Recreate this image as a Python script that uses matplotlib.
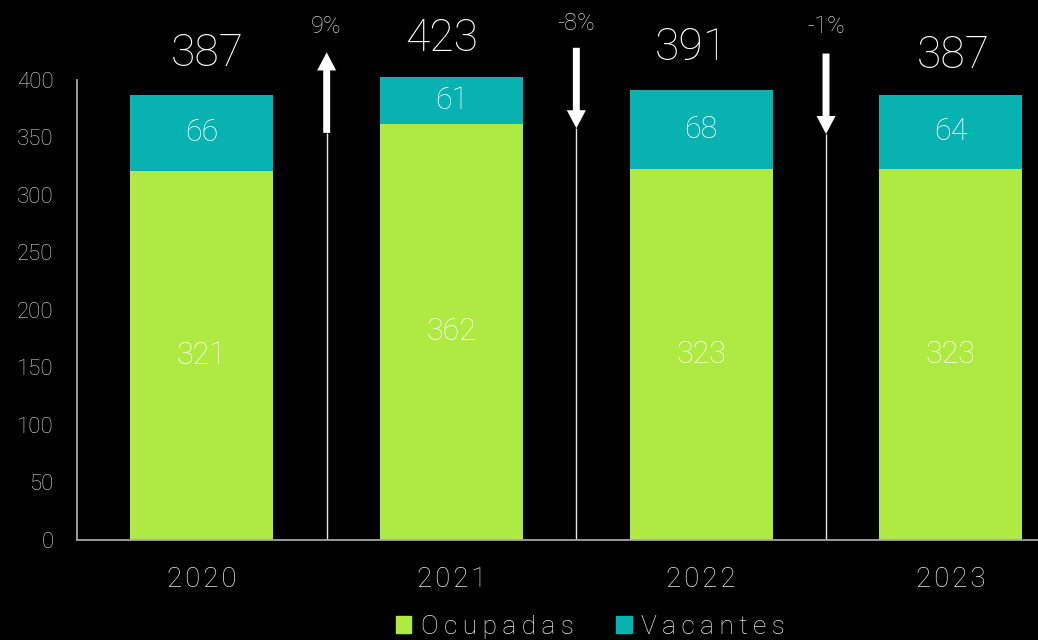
import numpy as np
import matplotlib
matplotlib.use("Agg")
import matplotlib.pyplot as plt
from matplotlib.patches import FancyArrowPatch, ArrowStyle, Rectangle, Circle

# data
years = ["2020", "2021", "2022", "2023"]
ocupadas = [321, 362, 323, 323]
vacantes = [66, 61, 68, 64]
totals = [387, 423, 391, 387]
changes = ["9%", "-8%", "-1%"]
series_names = ["Ocupadas", "Vacantes"]

# where the annotations sit (data units)
total_label_x = [0.02, -0.04, -0.04, 0.01]
total_label_y = [422.5, 435.5, 428.0, 421.5]
change_label_y = [446.5, 449.0, 446.5]
arrow_tail = [354, 428, 423]
arrow_tip = [424, 358, 353]

GREEN = "#aeea42"
TEAL = "#08b2b0"
FONT = ["Roboto", "DejaVu Sans"]

plt.rcParams["font.family"] = FONT
plt.rcParams["font.weight"] = "light"


def spaced(s, gap="\u2009"):
    # mimic the wide letter spacing of the original
    return gap.join(s)


fig = plt.figure(figsize=(10.38, 6.4), dpi=100, facecolor="black")
W, H = 1038, 640
ymax = 402.6
ax = fig.add_axes([77 / W, 100 / H, 998.7 / W, 463 / H], facecolor="black")

x = np.arange(len(years))
bw = 0.573
ax.bar(x, ocupadas, bw, color=GREEN)
ax.bar(x, vacantes, bw, bottom=ocupadas, color=TEAL)

ax.set_xlim(-0.5, 3.5)
ax.set_ylim(0, ymax)
ax.set_yticks(np.arange(0, 401, 50))
ax.set_xticks(x)
ax.set_xticklabels([spaced(y, "\u200a") for y in years])
ax.tick_params(axis="y", length=0, pad=17, labelsize=16, labelcolor="#d9d9d9")
ax.tick_params(axis="x", length=0, pad=19, labelsize=20, labelcolor="#e6e6e6")
for s in ["top", "right"]:
    ax.spines[s].set_visible(False)
for s in ["left", "bottom"]:
    ax.spines[s].set_color("#a6a6a6")
    ax.spines[s].set_linewidth(1.3)
ax.spines["left"].set_bounds(0, 400)

# segment labels
for i in range(len(years)):
    ax.text(x[i], ocupadas[i] / 2, str(ocupadas[i]), ha="center", va="center",
            color="white", fontsize=22)
    top = min(ocupadas[i] + vacantes[i], ymax)
    ax.text(x[i], (ocupadas[i] + top) / 2, str(vacantes[i]), ha="center", va="center",
            color="white", fontsize=22)
    ax.text(x[i] + total_label_x[i], total_label_y[i], str(totals[i]), ha="center",
            va="center", color="white", fontsize=32, clip_on=False)

# change arrows between bars
style = ArrowStyle.Simple(head_length=13, head_width=13.7, tail_width=5)
for j in range(len(changes)):
    xm = j + 0.5
    low = min(arrow_tail[j], arrow_tip[j])
    ax.plot([xm, xm], [0, low], color="#e6e6e6", lw=1, solid_capstyle="butt")
    arr = FancyArrowPatch((xm, arrow_tail[j]), (xm, arrow_tip[j]), arrowstyle=style,
                          mutation_scale=1, shrinkA=0, shrinkB=0, color="white",
                          lw=0, clip_on=False)
    ax.add_patch(arr)
    ax.text(xm, change_label_y[j], changes[j], ha="center", va="center",
            color="#cfcfcf", fontsize=17, clip_on=False)

# legend
handles = [Rectangle((0, 0), 1, 1, color=GREEN), Rectangle((0, 0), 1, 1, color=TEAL)]
fig.legend(handles, [spaced(n) for n in series_names], loc="center",
           bbox_to_anchor=(590 / W, 1 - 627 / H), ncol=2, frameon=False, fontsize=19,
           labelcolor="#e6e6e6", handlelength=0.6, handleheight=0.6,
           handletextpad=0.35, columnspacing=1.6)

# bit of logo peeking in at the bottom right
fig.patches.append(Circle((1002 / W, -17 / H), 20 / W, transform=fig.transFigure,
                          color="#dcdc28", zorder=5))

fig.savefig("out.png", dpi=100, facecolor="black")
